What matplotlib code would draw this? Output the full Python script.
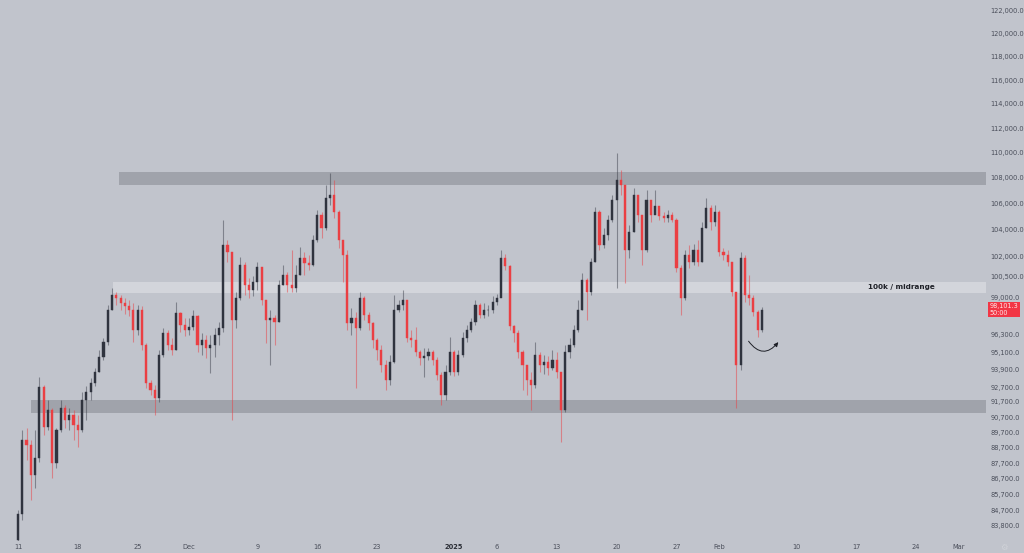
import numpy as np
import pandas as pd
import matplotlib
matplotlib.use("Agg")
import matplotlib.pyplot as plt
import matplotlib.dates as mdates
from matplotlib.patches import FancyArrowPatch

# BTC 12h candles (Nov 11 2024 -> Feb 6 2025), open = previous close
first_open = 82920
closes = [
    84500, 89190, 88870, 86940, 88030, 92710, 90050, 91170, 87710, 89850,
    91300, 90500, 90830, 90170, 89850, 91830, 92370, 92990, 93730, 94770,
    95810, 98080, 99160, 98940, 98580, 98370, 98080, 96660, 98080, 95600,
    92990, 92510, 91960, 94910, 96450, 95600, 95250, 97870, 97010, 96660,
    96870, 97650, 95600, 95950, 95390, 95600, 96310, 96800, 102850, 102320,
    97370, 98940, 101350, 99880, 99520, 100100, 101200, 98800, 97370, 97510,
    97230, 99880, 100610, 99880, 99670, 100610, 101870, 101490, 101350, 103220,
    105110, 104120, 106430, 106660, 105350, 103220, 102090, 97160, 97510, 96800,
    98940, 97720, 97160, 95950, 95250, 94210, 93190, 94420, 98080, 98440,
    98800, 96090, 95950, 95110, 94700, 94840, 95110, 94560, 93530, 92170,
    93730, 95110, 93730, 94910, 96090, 96660, 97230, 98440, 97720, 98080,
    98080, 98660, 98940, 101870, 101280, 96940, 96450, 95110, 94210, 93190,
    92850, 94910, 94210, 94420, 94010, 94560, 93730, 91170, 95110, 95600,
    96660, 98080, 100250, 99380, 101570, 105350, 102850, 103590, 104730, 106270,
    107830, 107440, 102470, 103820, 106660, 105110, 102470, 106270, 105110, 105800,
    105040, 104880, 105110, 104730, 101130, 98940, 102090, 101570, 102470, 101570,
    104120, 105650, 104580, 105350, 102320, 102090, 101570, 99380, 94210, 101870,
    99160, 98940, 97940, 96660, 98101.3,
]
highs = [
    84750, 89850, 89980, 89190, 89850, 93390, 92850, 91830, 91300, 89980,
    91830, 91500, 91300, 91170, 90830, 92370, 92780, 93330, 94010, 95250,
    96090, 98440, 99670, 99380, 99160, 98940, 98800, 98580, 98440, 98370,
    95740, 93190, 92850, 95250, 96800, 96660, 96090, 98660, 97940, 97510,
    97510, 98080, 97720, 96450, 96310, 96310, 96800, 97230, 104730, 103220,
    102020, 99380, 101940, 101570, 100400, 100540, 101570, 101130, 98800, 98080,
    97720, 100250, 101350, 100830, 102470, 101350, 102700, 102320, 102090, 103590,
    105500, 105350, 107440, 108380, 107830, 105500, 102850, 102470, 98230, 97940,
    99380, 99090, 97940, 97230, 96090, 95600, 94560, 94910, 99160, 98800,
    99520, 98800, 96660, 96870, 95250, 95390, 95390, 95250, 94770, 93730,
    94210, 96160, 95250, 95250, 96520, 97010, 97510, 98800, 98580, 98580,
    98440, 99090, 99230, 102470, 102170, 101350, 97010, 96660, 95250, 94210,
    93730, 95810, 95110, 94910, 94840, 95250, 95110, 93730, 95600, 96090,
    97010, 98800, 100760, 100400, 101870, 105730, 105500, 104120, 105110, 106660,
    109980, 108620, 107440, 104350, 107210, 106660, 105110, 107050, 105880, 107050,
    105650, 105350, 105500, 105350, 104880, 101350, 102470, 102850, 102920, 103220,
    104580, 106430, 105880, 105880, 105500, 102620, 102470, 101570, 98940, 102320,
    102090, 100610, 99160, 98080, 98300,
]
lows = [
    82800, 84130, 87900, 85370, 86120, 87770, 89520, 89850, 86750, 87390,
    89720, 89980, 89850, 89190, 88740, 89720, 90500, 91830, 92780, 93730,
    94560, 95600, 98080, 98440, 98080, 97800, 97650, 95810, 96310, 95250,
    92640, 92170, 90830, 91700, 94770, 95250, 94910, 95250, 96520, 96230,
    96310, 96660, 95110, 94910, 94700, 93660, 94770, 95600, 96520, 101570,
    90500, 96800, 98800, 99160, 98940, 99090, 99520, 98440, 95740, 94210,
    95600, 97230, 99880, 99380, 99380, 99380, 100610, 100610, 100980, 101270,
    103070, 103370, 103970, 105880, 104880, 102620, 100100, 96660, 96310, 92640,
    96660, 97370, 96660, 95390, 94560, 93730, 92510, 92850, 94350, 97940,
    98080, 95810, 95460, 94840, 94210, 93390, 94560, 94210, 93190, 91500,
    91830, 93530, 93460, 93530, 94770, 95810, 96520, 97010, 97510, 97510,
    97650, 97870, 98440, 99380, 100980, 96660, 95810, 94700, 92510, 92170,
    91170, 92640, 93730, 93600, 93530, 93870, 93330, 89060, 91040, 94700,
    95460, 96520, 98080, 97370, 99160, 101570, 102470, 102620, 103220, 104580,
    99670, 106660, 100030, 101870, 103820, 104580, 101350, 102320, 104580, 105200,
    104730, 104580, 104580, 104580, 100830, 97720, 98800, 101130, 101350, 101270,
    101570, 104120, 103970, 104270, 102020, 101720, 101270, 99090, 91300, 93870,
    98660, 98440, 97650, 96160, 96520,
]

# zones: (start date, low, high, color)
zones = [
    ("2024-11-22 19:00", 107440, 108460, "#a0a3ab"),
    ("2024-11-22 02:00", 99300, 100100, "#d3d5db"),
    ("2024-11-12 12:00", 90970, 91830, "#a0a3ab"),
]

price_ticks = [122000, 120000, 118000, 116000, 114000, 112000, 110000, 108000,
               106000, 104000, 102000, 100500, 99000, 96300, 95100, 93900,
               92700, 91700, 90700, 89700, 88700, 87700, 86700, 85700, 84700, 83800]
date_ticks = ["2024-11-11", "2024-11-18", "2024-11-25", "2024-12-01", "2024-12-09",
              "2024-12-16", "2024-12-23", "2025-01-01", "2025-01-06", "2025-01-13",
              "2025-01-20", "2025-01-27", "2025-02-01", "2025-02-10", "2025-02-17",
              "2025-02-24", "2025-03-01"]
date_labels = ["11", "18", "25", "Dec", "9", "16", "23", "2025", "6", "13",
               "20", "27", "Feb", "10", "17", "24", "Mar"]

bg = "#c1c4cc"
up_col = "#2f333e"
dn_col = "#ea3f43"

opens = [first_open] + closes[:-1]
times = pd.date_range("2024-11-11", periods=len(closes), freq="12h")
x = mdates.date2num(times)
o = np.array(opens, dtype=float)
c = np.array(closes, dtype=float)
h = np.array(highs, dtype=float)
l = np.array(lows, dtype=float)
up = c >= o

fig = plt.figure(figsize=(10.24, 5.53), dpi=100)
fig.patch.set_facecolor(bg)
ax = fig.add_axes([0, 12 / 553, 986 / 1024, 541 / 553])
ax.set_facecolor(bg)
ax.set_yscale("log")

x0 = mdates.date2num(pd.Timestamp("2024-11-11")) - 2.1
x1 = mdates.date2num(pd.Timestamp("2024-11-11")) + 113.2
ax.set_xlim(x0, x1)
ax.set_ylim(82850, 122980)

for start, lo, hi, col in zones:
    xs = mdates.date2num(pd.Timestamp(start))
    ax.fill_between([xs, x1], lo, hi, color=col, lw=0, zorder=1)

# wicks
ax.vlines(x[up], l[up], h[up], colors=up_col, lw=0.8, alpha=0.45, zorder=2)
ax.vlines(x[~up], l[~up], h[~up], colors=dn_col, lw=0.8, alpha=0.5, zorder=2)
# bodies
w = 0.25
ax.bar(x[up], c[up] - o[up], bottom=o[up], width=w, color=up_col,
       edgecolor=up_col, lw=0.3, zorder=3)
ax.bar(x[~up], o[~up] - c[~up], bottom=c[~up], width=w, color=dn_col,
       edgecolor=dn_col, lw=0.3, zorder=3)

# annotations
ax.text(mdates.date2num(pd.Timestamp("2025-02-18 10:00")), 99700, "100k / midrange",
        fontsize=5.2, fontweight="bold", color="#1e2027", va="center", ha="left", zorder=4)
arrow = FancyArrowPatch((mdates.date2num(pd.Timestamp("2025-02-04 06:00")), 96020),
                        (mdates.date2num(pd.Timestamp("2025-02-08 03:00")), 95950),
                        connectionstyle="arc3,rad=0.7", arrowstyle="-|>,head_length=2.5,head_width=1.2",
                        color="#1e2027", lw=0.7, zorder=4)
ax.add_patch(arrow)

# axes styling
for s in ax.spines.values():
    s.set_visible(False)
ax.yaxis.tick_right()
ax.set_yticks(price_ticks)
ax.set_yticklabels([f"{v:,.1f}" for v in price_ticks])
ax.yaxis.set_minor_locator(matplotlib.ticker.NullLocator())
ax.tick_params(axis="y", length=0, pad=3, labelsize=4.8, labelcolor="#4a4e5a")
ax.set_xticks(mdates.date2num(pd.to_datetime(date_ticks)))
ax.set_xticklabels(date_labels)
ax.tick_params(axis="x", length=0, pad=2, labelsize=4.8, labelcolor="#4a4e5a")
for lab in ax.get_xticklabels():
    if lab.get_text() == "2025":
        lab.set_fontweight("bold")
        lab.set_color("#2a2d35")

# last price tag
last = closes[-1]
ax.annotate(f"{last:,.1f}\n50:00", xy=(1.0, last), xycoords=("axes fraction", "data"),
            xytext=(2.5, 0), textcoords="offset points", fontsize=4.7, color="#ffe6e6",
            va="center", ha="left", linespacing=1.1, zorder=5, annotation_clip=False,
            bbox=dict(boxstyle="square,pad=0.25", fc="#f23645", ec="none"))
fig.text(1004 / 1024, 6 / 553, "\u2699", fontsize=6, color="#d0d2d8", ha="center", va="center")

fig.savefig("out.png", dpi=100, facecolor=bg)
